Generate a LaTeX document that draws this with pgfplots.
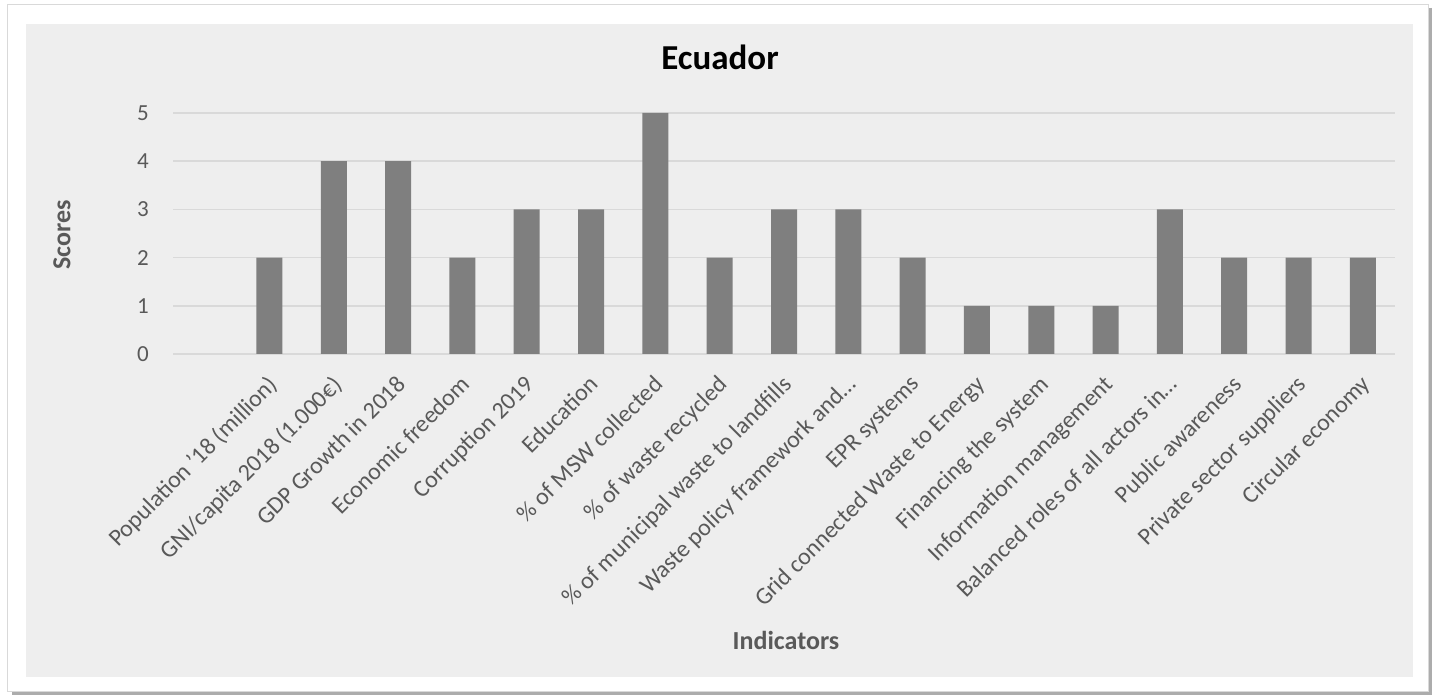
\documentclass[border=0pt]{standalone}
\usepackage{pgfplots}
\pgfplotsset{compat=1.18}
\usepackage{fontspec}
\setmainfont{Carlito}

\definecolor{chartbg}{HTML}{EEEEEE}
\definecolor{barfill}{HTML}{7F7F7F}
\definecolor{gridcol}{HTML}{D9D9D9}
\definecolor{txt}{HTML}{595959}

\begin{document}
\begin{tikzpicture}[x=1bp,y=1bp]
\useasboundingbox (0,0) rectangle (1439,696);
\fill[white] (0,0) rectangle (1439,696);
% frame with a soft shadow at right and bottom
\draw[gray!65, line width=3.5bp] (1430,688) -- (1430,2.5) -- (12,2.5);
\filldraw[fill=white, draw=gray!30, line width=1bp] (7,4.5) rectangle (1428,691);
\fill[chartbg] (26,19) rectangle (1413,672);

\begin{axis}[
  at={(173bp,342bp)}, anchor=south west,
  scale only axis,
  width=1222bp, height=241bp,
  xmin=-0.5, xmax=18.5,
  ymin=0, ymax=5,
  ytick={0,1,2,3,4,5},
  xtick={1,2,3,4,5,6,7,8,9,10,11,12,13,14,15,16,17,18},
  xticklabels={
    {Population ’18 (million)},
    {GNI/capita 2018 (1.000€)},
    {GDP Growth in 2018},
    {Economic freedom},
    {Corruption 2019},
    {Education},
    {\% of MSW collected},
    {\% of waste recycled},
    {\% of municipal waste to landfills},
    {Waste policy framework and\ldots},
    {EPR systems},
    {Grid connected Waste to Energy},
    {Financing the system},
    {Information management},
    {Balanced roles of all actors in\ldots},
    {Public awareness},
    {Private sector suppliers},
    {Circular economy}},
  axis line style={draw=none},
  tick style={draw=none},
  ymajorgrids,
  major grid style={gridcol, line width=1.5bp},
  /pgf/number format/assume math mode=true,
  yticklabel style={font=\fontsize{23bp}{27bp}\selectfont, text=txt,
    anchor=east, inner sep=0pt, xshift=-24bp},
  xticklabel style={font=\fontsize{24bp}{28bp}\selectfont, text=txt,
    inner sep=0pt, xshift=-3bp, yshift=-20bp, rotate=45, anchor=north east},
]
\addplot[ybar, bar width=26bp, fill=barfill, draw=none] coordinates {
  (1,2) (2,4) (3,4) (4,2) (5,3) (6,3) (7,5) (8,2) (9,3)
  (10,3) (11,2) (12,1) (13,1) (14,1) (15,3) (16,2) (17,2) (18,2)
};
\end{axis}

\node[font=\fontsize{35bp}{40bp}\selectfont\bfseries] at (720,639) {Ecuador};
\node[font=\fontsize{26bp}{30bp}\selectfont\bfseries, text=txt, rotate=90] at (62,461) {Scores};
\node[font=\fontsize{26bp}{30bp}\selectfont\bfseries, text=txt] at (786,56) {Indicators};
\end{tikzpicture}
\end{document}
